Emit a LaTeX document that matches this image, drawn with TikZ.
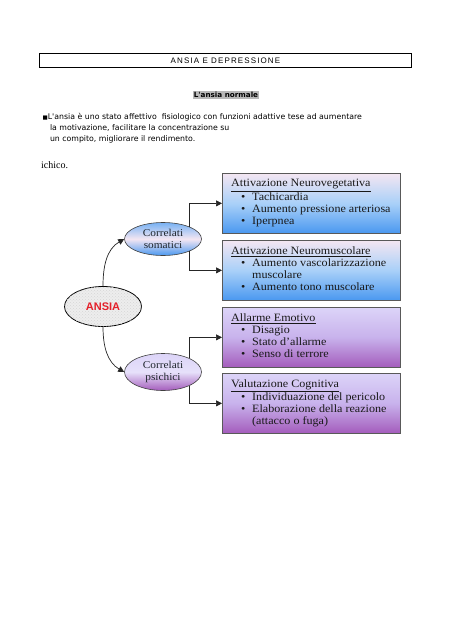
\documentclass[tikz,border=0pt]{standalone}
\usepackage{fontspec}
\setmainfont{Liberation Serif}
\setsansfont{Liberation Sans}
\newfontfamily\dejavu{DejaVu Sans}
\newfontfamily\boxfont{Liberation Serif}[FakeStretch=1.08]
\usetikzlibrary{arrows.meta,shapes.geometric,patterns}
\definecolor{bluetop}{HTML}{F4E6F2}
\definecolor{bluemid}{HTML}{A9D0F8}
\definecolor{bluebot}{HTML}{4A98F0}
\definecolor{purtop}{HTML}{DCD4F8}
\definecolor{purmid}{HTML}{C8B2EC}
\definecolor{purbot}{HTML}{A45CBC}
\definecolor{ansiared}{HTML}{E4202A}
\definecolor{elltext}{HTML}{1E252C}
\begin{document}
\begin{tikzpicture}[x=1pt,y=1pt,
  arr/.style={-{Triangle[length=6pt,width=6pt]}, line width=0.7pt, draw=black!85},
  bx/.style={draw=black!65, line width=0.7pt, minimum width=178pt, minimum height=60pt, inner sep=0pt, anchor=north west},
  bluebox/.style={bx, top color=bluetop, bottom color=bluebot, middle color=bluemid},
  purbox/.style={bx, top color=purtop, bottom color=purbot, middle color=purmid},
  bxtext/.style={anchor=north west, inner sep=0pt, align=left, font=\boxfont\fontsize{11.2}{12}\selectfont, text=black!90},
  ell/.style={ellipse, inner sep=0pt, minimum width=77pt, align=center, draw=black!75, line width=0.6pt, font=\boxfont\fontsize{10.5}{12.5}\selectfont, text=elltext}
]
\useasboundingbox (0,0) rectangle (452,-640);
\fill[white] (0,0) rectangle (452,-640);

% header
\node[draw, line width=0.9pt, minimum width=372pt, minimum height=14pt, inner sep=0pt, anchor=north west,
      font=\sffamily\fontsize{8}{9}\selectfont] (hdr) at (39,-53)
      {\addfontfeature{LetterSpace=14}ANSIA E DEPRESSIONE};

% subtitle
\node[fill=black!28, inner sep=1pt, font=\dejavu\bfseries\fontsize{7.2}{9}\selectfont] (ttl) at (226,-95) {L'ansia normale};

% paragraph
\node[anchor=north west, inner sep=0pt, align=left, font=\dejavu\fontsize{7.8}{10.8}\selectfont] (par) at (42.5,-113.3)
 {{\fontsize{5.5}{6}\selectfont ■}L'ansia è uno stato affettivo\ \ fisiologico con funzioni adattive tese ad aumentare\\
  \hspace*{7.3pt}la motivazione, facilitare la concentrazione su\\
  \hspace*{7.3pt}un compito, migliorare il rendimento.};

\node[anchor=base west, inner sep=0pt, font=\fontsize{10}{12}\selectfont] (frag) at (41,-168) {ichico.};

% ellipses
\node[ell, minimum height=40pt, fill=black!7,
      postaction={pattern=crosshatch dots, pattern color=black!16},
      font=\sffamily\bfseries\fontsize{11}{12}\selectfont, text=ansiared, draw=black, line width=0.8pt] (ansia) at (103,-306.5) {ANSIA};
\node[ell, minimum height=33pt, top color=bluebot!75, bottom color=bluebot, middle color=bluetop] (som) at (163,-239) {Correlati\\somatici};
\node[ell, minimum height=37pt, top color=purtop, bottom color=purbot, middle color=purtop!70!white] (psi) at (163,-372) {Correlati\\psichici};

% boxes
\node[bluebox] (b1) at (222,-173) {};
\node[bluebox] (b2) at (222,-240) {};
\node[purbox]  (b3) at (222,-307) {};
\node[purbox]  (b4) at (222,-373) {};

\node[bxtext] (t1) at ([shift={(9,-6.3)}]b1.north west)
 {\underline{Attivazione Neurovegetativa}\\
  \hspace*{10pt}\makebox[11pt][l]{•}Tachicardia\\
  \hspace*{10pt}\makebox[11pt][l]{•}Aumento pressione arteriosa\\
  \hspace*{10pt}\makebox[11pt][l]{•}Iperpnea};
\node[bxtext] (t2) at ([shift={(9,-6.3)}]b2.north west)
 {\underline{Attivazione Neuromuscolare}\\
  \hspace*{10pt}\makebox[11pt][l]{•}Aumento vascolarizzazione\\
  \hspace*{21pt}muscolare\\
  \hspace*{10pt}\makebox[11pt][l]{•}Aumento tono muscolare};
\node[bxtext] (t3) at ([shift={(9,-6.3)}]b3.north west)
 {\underline{Allarme Emotivo}\\
  \hspace*{10pt}\makebox[11pt][l]{•}Disagio\\
  \hspace*{10pt}\makebox[11pt][l]{•}Stato d’allarme\\
  \hspace*{10pt}\makebox[11pt][l]{•}Senso di terrore};
\node[bxtext] (t4) at ([shift={(9,-6.3)}]b4.north west)
 {\underline{Valutazione Cognitiva}\\
  \hspace*{10pt}\makebox[11pt][l]{•}Individuazione del pericolo\\
  \hspace*{10pt}\makebox[11pt][l]{•}Elaborazione della reazione\\
  \hspace*{21pt}(attacco o fuga)};

% connectors
\draw[arr] (ansia.north) to[out=90, in=210] (som.west);
\draw[arr] (ansia.south) to[out=-90, in=150] (psi.west);
\draw[arr] (som.25) |- (b1.west);
\draw[arr] (som.-25) |- (b2.west);
\draw[arr] (psi.28) |- (b3.west);
\draw[arr] (psi.-28) |- (b4.west);
\end{tikzpicture}
\end{document}
